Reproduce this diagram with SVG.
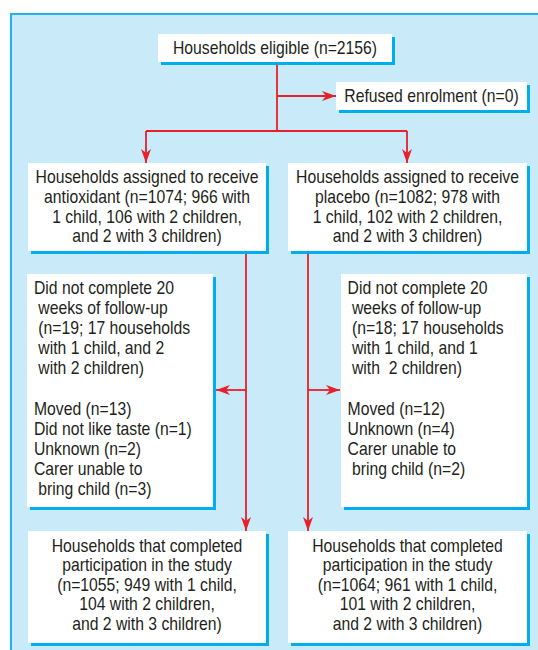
<svg xmlns="http://www.w3.org/2000/svg" width="538" height="650" viewBox="0 0 538 650">
<defs>
<style>
.panel{fill:#c9ebf9;stroke:#1fb3ea;stroke-width:2}
.sh{fill:#00aeef}
.bx{fill:#ffffff}
.t{font-family:"Liberation Sans",Arial,sans-serif;font-size:18.2px;fill:#231f20}
.c{text-anchor:middle}
.ln{fill:none;stroke:#e8202a;stroke-width:1.8}
.ar{marker-end:url(#ah)}
</style>
<marker id="ah" markerUnits="userSpaceOnUse" markerWidth="15" markerHeight="11" refX="14" refY="5.5" orient="auto">
<path d="M0,0.5 L14,5.5 L0,10.5 L4,5.5 Z" fill="#e8202a"/>
</marker>
</defs>
<rect class="panel" x="11" y="14" width="600" height="700"/>

<g id="connectors">
<path class="ln" d="M277,62 V131"/>
<path class="ln ar" d="M277,96 H336"/>
<path class="ln" d="M146,131 H407"/>
<path class="ln ar" d="M146,131 V163"/>
<path class="ln ar" d="M407,131 V163"/>
<path class="ln ar" d="M246,251 V531"/>
<path class="ln ar" d="M246,390 H216"/>
<path class="ln ar" d="M308,251 V531"/>
<path class="ln ar" d="M308,390 H340"/>
</g>

<g id="eligible">
<rect class="sh" x="161" y="37" width="234" height="28"/>
<rect class="bx" x="158" y="34" width="234" height="28"/>
<g transform="translate(275 0) scale(0.865 1)"><text class="t c" x="0" y="54.5">Households eligible (n=2156)</text></g>
</g>

<g id="refused">
<rect class="sh" x="339" y="85" width="191" height="28"/>
<rect class="bx" x="336" y="82" width="191" height="28"/>
<g transform="translate(431.5 0) scale(0.865 1)"><text class="t c" x="0" y="102.5">Refused enrolment (n=0)</text></g>
</g>

<g id="antioxidant">
<rect class="sh" x="31" y="166" width="238" height="88"/>
<rect class="bx" x="28" y="163" width="238" height="88"/>
<g transform="translate(147 0) scale(0.865 1)">
<text class="t c" x="0" y="183.5">Households assigned to receive</text>
<text class="t c" x="0" y="203.2">antioxidant (n=1074; 966 with</text>
<text class="t c" x="0" y="222.9">1 child, 106 with 2 children,</text>
<text class="t c" x="0" y="242.5">and 2 with 3 children)</text>
</g>
</g>

<g id="placebo">
<rect class="sh" x="291" y="166" width="239" height="88"/>
<rect class="bx" x="288" y="163" width="239" height="88"/>
<g transform="translate(407.5 0) scale(0.865 1)">
<text class="t c" x="0" y="183.5">Households assigned to receive</text>
<text class="t c" x="0" y="203.2">placebo (n=1082; 978 with</text>
<text class="t c" x="0" y="222.9">1 child, 102 with 2 children,</text>
<text class="t c" x="0" y="242.5">and 2 with 3 children)</text>
</g>
</g>

<g id="dropout-antioxidant">
<rect class="sh" x="30" y="277" width="186" height="233"/>
<rect class="bx" x="27" y="274" width="186" height="233"/>
<g transform="translate(34 0) scale(0.865 1)">
<text class="t" x="0" y="294.5">Did not complete 20</text>
<text class="t" x="5" y="314.5">weeks of follow-up</text>
<text class="t" x="5" y="334.5">(n=19; 17 households</text>
<text class="t" x="5" y="354.5">with 1 child, and 2</text>
<text class="t" x="5" y="374.5">with 2 children)</text>
<text class="t" x="0" y="415.5">Moved (n=13)</text>
<text class="t" x="0" y="435.5">Did not like taste (n=1)</text>
<text class="t" x="0" y="455.5">Unknown (n=2)</text>
<text class="t" x="0" y="475.5">Carer unable to</text>
<text class="t" x="5" y="495.5">bring child (n=3)</text>
</g>
</g>

<g id="dropout-placebo">
<rect class="sh" x="344" y="277" width="186" height="233"/>
<rect class="bx" x="341" y="274" width="186" height="233"/>
<g transform="translate(347.6 0) scale(0.865 1)">
<text class="t" x="0" y="294.5">Did not complete 20</text>
<text class="t" x="5" y="314.5">weeks of follow-up</text>
<text class="t" x="5" y="334.5">(n=18; 17 households</text>
<text class="t" x="5" y="354.5">with 1 child, and 1</text>
<text class="t" x="5" y="374.5">with&#160; 2 children)</text>
<text class="t" x="0" y="415.5">Moved (n=12)</text>
<text class="t" x="0" y="435.5">Unknown (n=4)</text>
<text class="t" x="0" y="455.5">Carer unable to</text>
<text class="t" x="5" y="475.5">bring child (n=2)</text>
</g>
</g>

<g id="completed-antioxidant">
<rect class="sh" x="31" y="534" width="238" height="112"/>
<rect class="bx" x="28" y="531" width="238" height="112"/>
<g transform="translate(147 0) scale(0.865 1)">
<text class="t c" x="0" y="551.8">Households that completed</text>
<text class="t c" x="0" y="571.3">participation in the study</text>
<text class="t c" x="0" y="590.8">(n=1055; 949 with 1 child,</text>
<text class="t c" x="0" y="610.3">104 with 2 children,</text>
<text class="t c" x="0" y="629.8">and 2 with 3 children)</text>
</g>
</g>

<g id="completed-placebo">
<rect class="sh" x="291" y="534" width="239" height="112"/>
<rect class="bx" x="288" y="531" width="239" height="112"/>
<g transform="translate(407.5 0) scale(0.865 1)">
<text class="t c" x="0" y="551.8">Households that completed</text>
<text class="t c" x="0" y="571.3">participation in the study</text>
<text class="t c" x="0" y="590.8">(n=1064; 961 with 1 child,</text>
<text class="t c" x="0" y="610.3">101 with 2 children,</text>
<text class="t c" x="0" y="629.8">and 2 with 3 children)</text>
</g>
</g>
</svg>
